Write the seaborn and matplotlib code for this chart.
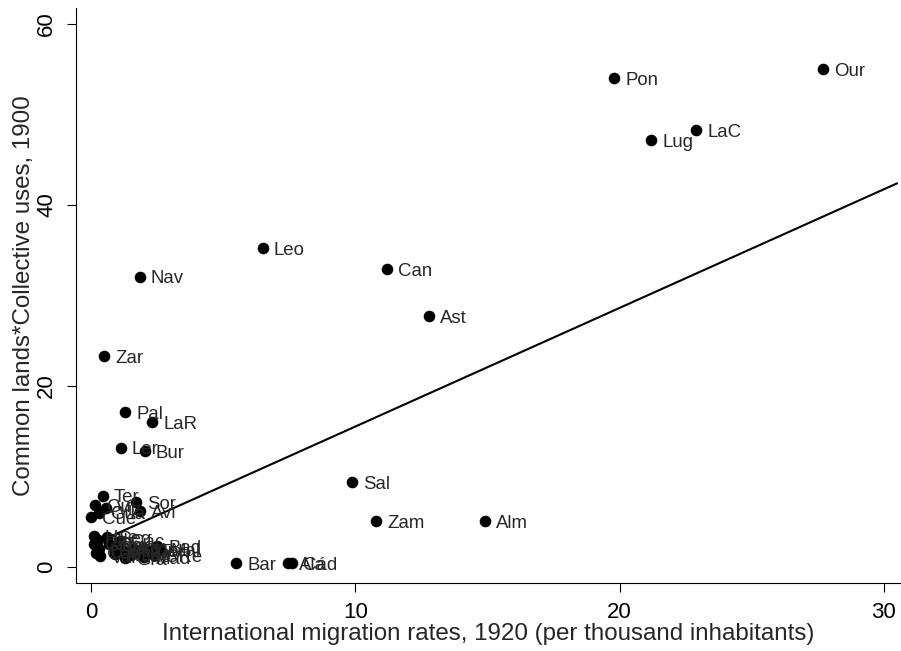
#!/usr/bin/env python3
"""
Scatter of common lands with collective uses (1900) against international
migration rates (1920), one labelled dot per Spanish province plus a linear fit.
"""

import matplotlib
matplotlib.use("Agg")
import matplotlib.pyplot as plt
import seaborn as sns
import numpy as np
import pandas as pd

# Province abbreviations and values
provinces = [
    "Our", "Pon", "LaC", "Lug", "Leo", "Can", "Nav", "Ast", "Zar", "Pal",
    "LaR", "Ler", "Bur", "Sal", "Zam", "Alm", "Bar", "Ala", "Cád",
    "Ter", "Sor", "Avi", "Gui", "Viz", "Cue", "Gua",
    "Seg", "Hue", "Tar", "Gir", "Hsc", "Cas", "Val", "Ali", "Mur", "Alb",
    "Gra", "Jaé", "Cór", "Sev", "Mad", "Tol", "CRe", "Bad", "Mal", "Các",
    "Bal", "Vll",
]
migration = [
    27.7, 19.8, 22.9, 21.2, 6.5, 11.2, 1.85, 12.8, 0.49, 1.3,
    2.32, 1.12, 2.04, 9.89, 10.8, 14.9, 5.5, 7.45, 7.6,
    0.44, 1.72, 1.86, 0.15, 0.55, 0.0, 0.3,
    0.6, 0.1, 0.25, 0.1, 0.3, 0.2, 0.35, 0.9, 1.0, 1.2,
    1.3, 1.5, 1.6, 1.8, 2.0, 2.2, 2.4, 2.5, 2.6, 1.1,
    0.7, 0.9,
]
commons = [
    55.0, 54.0, 48.3, 47.2, 35.2, 32.9, 32.1, 27.7, 23.3, 17.1,
    16.0, 13.2, 12.8, 9.4, 5.1, 5.1, 0.4, 0.45, 0.4,
    7.9, 7.2, 6.2, 6.8, 6.5, 5.5, 6.0,
    3.3, 3.4, 3.0, 2.5, 2.0, 1.6, 1.2, 1.4, 2.2, 1.8,
    1.0, 1.3, 2.0, 1.5, 1.1, 1.8, 1.3, 2.3, 2.0, 2.9,
    2.5, 1.9,
]

# Linear fit as drawn in the chart
fit_intercept = 2.41
fit_slope = 1.311
fit_range = [0.0, 30.5]

sns.set_style("white")
plt.rcParams['font.family'] = ['Liberation Sans', 'DejaVu Sans']

df = pd.DataFrame({'province': provinces, 'migration': migration, 'commons': commons})

W, H = 901, 651
fig = plt.figure(figsize=(W / 100, H / 100), dpi=100)
ax = fig.add_axes([76 / W, 1 - 583 / H, (900 - 76) / W, (583 - 8) / H])

fit_x = np.array(fit_range)
fit_y = fit_intercept + fit_slope * fit_x
sns.lineplot(x=fit_x, y=fit_y, ax=ax, color='black', linewidth=1.5, zorder=2)

sns.scatterplot(data=df, x='migration', y='commons', ax=ax, color='black',
                s=70, edgecolor='black', linewidth=0, zorder=3)

for name, xv, yv in zip(provinces, migration, commons):
    ax.annotate(name, (xv, yv), xytext=(7.9, -4.8), textcoords='offset points',
                fontsize=13.4, ha='left', va='baseline', zorder=4)

ax.set_xlim(-0.5675, 30.61)
ax.set_ylim(-1.768, 61.77)
ax.set_xticks([0, 10, 20, 30])
ax.set_yticks([0, 20, 40, 60])
ax.tick_params(axis='both', direction='out', length=6.5, width=0.8,
               labelsize=16, color='black', labelcolor='black', pad=7,
               bottom=True, left=True)
for lab in ax.get_yticklabels():
    lab.set_rotation(90)
    lab.set_va('center')

ax.set_xlabel('International migration rates, 1920 (per thousand inhabitants)',
              fontsize=17.4, labelpad=0)
ax.set_ylabel('Common lands*Collective uses, 1900', fontsize=17.4, labelpad=1)

sns.despine(ax=ax)
for side in ['left', 'bottom']:
    ax.spines[side].set_color('black')
    ax.spines[side].set_linewidth(0.8)

plt.savefig('out.png', dpi=100)
plt.close()
